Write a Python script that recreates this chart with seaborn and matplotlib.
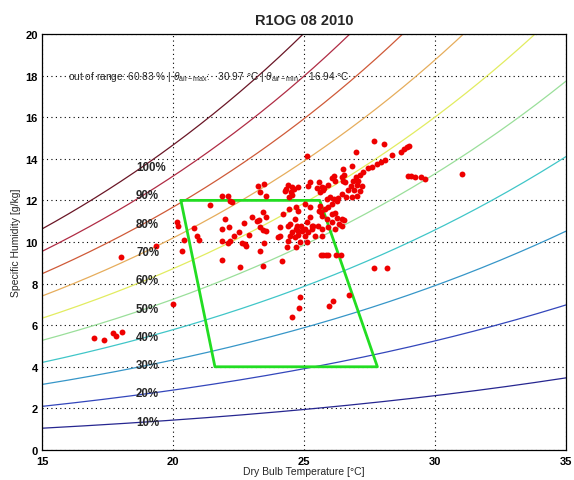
import numpy as np
import pandas as pd
import matplotlib
matplotlib.use("Agg")
import matplotlib.pyplot as plt
import seaborn as sns

# ---------------- data ----------------
rh_levels = [10, 20, 30, 40, 50, 60, 70, 80, 90, 100]
rh_labels = ["10%", "20%", "30%", "40%", "50%", "60%", "70%", "80%", "90%", "100%"]
rh_colors = ["#262690", "#3346bb", "#3696c8", "#40c6c8", "#9adf9a",
             "#e2ec60", "#e6ad5c", "#cf5a38", "#b02c44", "#6a1626"]

comfort_T = [20.3, 25.6, 27.8, 21.6, 20.3]
comfort_W = [12.0, 12.0, 4.0, 4.0, 12.0]

temp = [
    16.98, 17.37, 17.72, 17.82, 18.06, 18.00, 19.35, 20.01,
    20.16, 20.20, 20.80, 20.42, 20.93, 20.99, 20.33,
    23.26, 23.48, 23.32, 23.55, 21.88, 22.11, 22.24, 22.18, 21.40,
    24.40, 24.55, 24.30, 24.50, 24.61, 24.53, 24.43,
    23.45, 23.55, 23.00, 23.20, 23.29, 22.72, 21.98,
    21.86, 22.15, 22.53, 22.91, 23.32, 23.45, 23.54, 22.33,
    21.86, 22.09, 22.19, 22.62, 22.79, 22.75, 23.47, 23.32,
    21.88, 22.56, 23.42, 24.15,
    24.21, 24.43, 24.47, 24.08, 24.02, 24.38, 24.53, 24.69, 24.66, 24.68, 24.78,
    24.40, 24.08, 24.47, 24.66, 24.78, 24.85, 25.04, 25.30, 25.36, 25.55, 25.68,
    24.34, 24.69, 25.10, 25.68,
    25.10, 27.67, 28.06, 26.97, 28.37,
    28.09, 27.94, 27.77, 27.60, 27.43, 27.26, 27.14, 26.97, 26.88, 27.07, 27.20,
    27.01, 26.79, 26.92, 26.69, 27.14, 27.01, 26.82, 26.59, 26.44, 26.31, 26.16,
    25.99, 25.87,
    26.44, 26.50, 26.54, 26.16, 26.08, 26.18, 25.93, 25.77,
    25.23, 25.16, 25.58, 25.68, 25.74, 25.49, 24.78,
    25.93, 25.80, 26.06, 26.25, 25.61, 25.57, 25.68, 25.65, 25.23,
    26.06, 26.18, 26.25, 26.44, 26.54, 26.34, 26.44, 26.06, 25.87, 25.93, 26.18,
    25.04, 25.23, 25.10, 24.89, 25.29, 24.91, 24.78, 25.16, 25.42, 25.04, 24.72,
    25.64, 25.74, 25.84, 25.93, 26.22, 26.40,
    26.82, 26.50, 26.56, 24.27, 25.61,
    27.67, 28.18, 24.85, 26.10, 25.96, 24.81, 26.73, 24.55,
    28.70, 28.83, 28.92, 29.01, 28.98, 29.08, 29.24, 29.47, 29.62, 31.03,
]
humidity = [
    5.37, 5.30, 5.61, 5.50, 5.66, 9.26, 9.82, 7.00,
    10.95, 10.75, 10.66, 10.11, 10.27, 10.11, 9.58,
    12.68, 12.80, 12.39, 12.23, 12.23, 12.23, 11.94, 11.99, 11.80,
    12.74, 12.63, 12.55, 12.42, 12.55, 12.26, 12.15,
    11.46, 11.19, 11.19, 11.02, 11.07, 10.91, 11.10,
    10.63, 10.71, 10.47, 10.34, 10.71, 10.58, 10.54, 10.30,
    10.05, 9.95, 10.05, 9.95, 9.79, 9.90, 9.95, 9.58,
    9.13, 8.78, 8.86, 9.09,
    11.35, 11.59, 10.87, 10.71, 10.23, 10.06, 10.47, 10.63, 11.11, 11.67, 11.50,
    10.79, 10.30, 10.30, 10.23, 10.34, 9.98, 10.63, 10.63, 10.75, 10.79, 10.30,
    9.75, 9.75, 9.98, 10.63,
    14.15, 14.84, 14.71, 14.34, 14.18,
    13.96, 13.83, 13.75, 13.59, 13.54, 13.35, 13.22, 13.11, 12.95, 12.95, 12.71,
    12.74, 12.71, 12.51, 12.51, 12.47, 12.23, 12.15, 12.15, 12.31, 12.10, 12.07,
    12.15, 12.07,
    13.11, 12.95, 13.22, 13.16, 13.06, 12.95, 12.74, 12.58,
    12.87, 12.71, 12.90, 12.63, 12.51, 12.58, 12.63,
    11.67, 11.59, 11.83, 11.99, 11.75, 11.50, 11.26, 11.43, 11.67,
    11.35, 11.39, 11.14, 11.11, 11.07, 10.87, 10.75, 10.95, 11.11, 10.71, 10.63,
    11.83, 11.19, 10.95, 10.79, 10.79, 10.54, 10.54, 10.47, 10.30, 10.30, 10.79,
    9.39, 9.39, 9.39, 9.39, 9.39, 9.39,
    13.67, 13.51, 12.87, 12.47, 12.39,
    8.75, 8.75, 7.37, 7.18, 6.94, 6.81, 7.47, 6.41,
    14.34, 14.47, 14.55, 14.63, 13.19, 13.16, 13.14, 13.14, 13.03, 13.27,
]

title = "R1OG 08 2010"
note = (r"out of range: 60.83 % | $\theta_{\mathrm{air-max}}$:   30.97 °C | "
        r"$\theta_{\mathrm{air-min}}$:   16.94 °C")

# ---------------- curves (psychrometric relation) ----------------
P_atm = 101325.0
T_grid = np.linspace(15, 35, 200)


def p_sat(t):
    return 610.94 * np.exp(17.625 * t / (t + 243.04))


rows = []
for rh in rh_levels:
    pv = rh / 100.0 * p_sat(T_grid)
    w = 622.0 * pv / (P_atm - pv)
    for t, wv in zip(T_grid, w):
        rows.append((t, wv, rh))
curves = pd.DataFrame(rows, columns=["T", "W", "RH"])
pts = pd.DataFrame({"T": temp, "W": humidity})

# ---------------- plot ----------------
sns.set_theme(style="white")
plt.rcParams["font.family"] = ["Liberation Sans", "DejaVu Sans"]
plt.rcParams["mathtext.fontset"] = "custom"
plt.rcParams["mathtext.rm"] = "Liberation Sans"
plt.rcParams["mathtext.it"] = "Liberation Sans:italic"

fig = plt.figure(figsize=(5.74, 4.81), dpi=100)
ax = fig.add_axes([0.0732, 0.0624, 0.9129, 0.8649])

palette = dict(zip(rh_levels, rh_colors))
sns.lineplot(data=curves, x="T", y="W", hue="RH", palette=palette, lw=0.9,
             legend=False, ax=ax, sort=False, estimator=None)

ax.plot(comfort_T, comfort_W, color="#22dd22", lw=2.0, zorder=3)

sns.scatterplot(data=pts, x="T", y="W", color="#ee0000", s=18, linewidth=0,
                ax=ax, zorder=4)

for rh, lab in zip(rh_levels, rh_labels):
    ax.text(18.59, rh / 100 * 13.6, lab, fontsize=8.3, fontweight="bold",
            ha="left", va="center", zorder=5)

ax.text(16.0, 18.0, note, fontsize=7.3, ha="left", va="center", zorder=5)

ax.set_xlim(15, 35)
ax.set_ylim(0, 20)
ax.set_xticks([15, 20, 25, 30, 35])
ax.set_yticks(np.arange(0, 21, 2))
ax.grid(True, color="black", linestyle=(0, (1, 3)), linewidth=0.8)
ax.set_axisbelow(True)
for s in ax.spines.values():
    s.set_color("black")
    s.set_linewidth(0.9)
ax.tick_params(axis="both", direction="in", length=3, width=0.8, labelsize=8,
               colors="black")
ax.tick_params(axis="x", pad=4)
ax.tick_params(axis="y", pad=3)
for lbl in ax.get_xticklabels() + ax.get_yticklabels():
    lbl.set_fontweight("bold")

ax.set_xlabel("Dry Bulb Temperature [°C]", fontsize=7.5, labelpad=0)
ax.set_ylabel("Specific Humidity [g/kg]", fontsize=7.5, labelpad=3)
ax.set_title(title, fontsize=10.5, fontweight="bold", pad=7)

fig.savefig("out.png", dpi=100)
